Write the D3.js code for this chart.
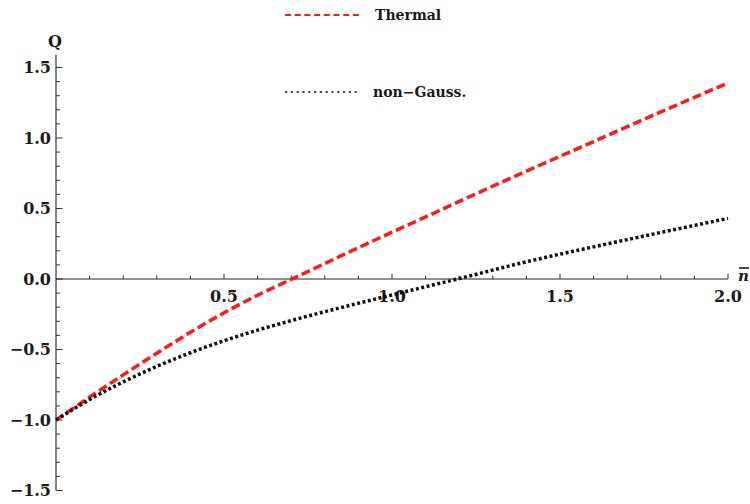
<!DOCTYPE html>
<html>
<head>
<meta charset="utf-8">
<script src="https://cdn.jsdelivr.net/npm/d3@7"></script>
<style>
  html, body { margin: 0; padding: 0; background: #fff; }
  svg { display: block; }
  text { font-family: "DejaVu Serif", "Liberation Serif", serif; font-weight: bold; fill: #1a1a1a; }
</style>
</head>
<body>
<svg id="chart" width="750" height="504"></svg>
<script>
// Mandel Q parameter versus mean photon number
const nValues = [0, 0.1, 0.2, 0.3, 0.4, 0.5, 0.6, 0.7, 0.8, 0.9, 1.0, 1.1, 1.2, 1.4, 1.6, 1.8, 2.0];
const thermalQ = [-1.00, -0.838, -0.680, -0.526, -0.378, -0.240, -0.115, -0.003, 0.110, 0.222, 0.332, 0.440, 0.550, 0.765, 0.975, 1.185, 1.390];
const nonGaussQ = [-1.00, -0.855, -0.730, -0.620, -0.523, -0.438, -0.363, -0.295, -0.232, -0.172, -0.113, -0.055, 0.003, 0.122, 0.228, 0.330, 0.430];

const xMajor = [0.5, 1.0, 1.5, 2.0];
const yMajor = [-1.5, -1.0, -0.5, 0.0, 0.5, 1.0, 1.5];
const seriesNames = ["Thermal", "non\u2212Gauss."];

const svg = d3.select("#chart");

const x = d3.scaleLinear().domain([0, 2]).range([56, 728]);
const y = d3.scaleLinear().domain([-1.5, 1.5]).range([490.5, 67.5]);

const fmt = v => (v < 0 ? "\u2212" : "") + Math.abs(v).toFixed(1);
const minor = (lo, hi) => d3.range(Math.round(lo * 10), Math.round(hi * 10) + 1).map(k => k / 10);
const isMajor = d => Math.abs(d * 2 - Math.round(d * 2)) < 1e-6;

// vertical axis
const yAxis = svg.append("g").attr("class", "y-axis");
yAxis.append("line")
  .attr("x1", x(0)).attr("x2", x(0))
  .attr("y1", y(1.59)).attr("y2", y(-1.5))
  .attr("stroke", "#333").attr("stroke-width", 1.2);
yAxis.selectAll("line.tick").data(minor(-1.5, 1.5)).join("line")
  .attr("class", "tick")
  .attr("x1", x(0))
  .attr("x2", d => x(0) + (isMajor(d) ? 6.5 : 4))
  .attr("y1", d => y(d)).attr("y2", d => y(d))
  .attr("stroke", "#333").attr("stroke-width", 1);
yAxis.selectAll("text").data(yMajor).join("text")
  .attr("x", 51).attr("y", d => y(d))
  .attr("dy", "0.36em")
  .attr("text-anchor", "end")
  .style("font-size", "16px")
  .text(fmt);

// horizontal axis
const xAxis = svg.append("g").attr("class", "x-axis");
xAxis.append("line")
  .attr("x1", x(0)).attr("x2", x(2))
  .attr("y1", y(0)).attr("y2", y(0))
  .attr("stroke", "#222").attr("stroke-width", 1.2);
xAxis.selectAll("line.tick").data(minor(0.1, 2.0)).join("line")
  .attr("class", "tick")
  .attr("x1", d => x(d)).attr("x2", d => x(d))
  .attr("y1", y(0))
  .attr("y2", d => y(0) - (isMajor(d) ? 5.5 : 3.5))
  .attr("stroke", "#333").attr("stroke-width", 1);
xAxis.selectAll("text").data(xMajor).join("text")
  .attr("x", d => x(d)).attr("y", 302)
  .attr("text-anchor", "middle")
  .style("font-size", "16px")
  .text(d => d.toFixed(1));

// axis titles
svg.append("text")
  .attr("x", 55).attr("y", 47)
  .attr("text-anchor", "middle")
  .style("font-size", "16px")
  .text("Q");
const nLabel = svg.append("g");
nLabel.append("text")
  .attr("x", 738).attr("y", 281)
  .style("font-size", "15px").style("font-style", "italic")
  .text("n");
nLabel.append("line")
  .attr("x1", 739).attr("x2", 749)
  .attr("y1", 268).attr("y2", 268)
  .attr("stroke", "#1a1a1a").attr("stroke-width", 1.6);

// curves
const line = d3.line()
  .x(d => x(d[0]))
  .y(d => y(d[1]))
  .curve(d3.curveMonotoneX);

const thermalPts = nValues.map((n, i) => [n, thermalQ[i]]);
const nonGaussPts = nValues.map((n, i) => [n, nonGaussQ[i]]);

svg.append("path")
  .datum(thermalPts)
  .attr("d", line)
  .attr("fill", "none")
  .attr("stroke", "#ff1a1a")
  .attr("stroke-width", 3.5)
  .attr("stroke-dasharray", "9,4");

svg.append("path")
  .datum(nonGaussPts)
  .attr("d", line)
  .attr("fill", "none")
  .attr("stroke", "#111")
  .attr("stroke-width", 3.5)
  .attr("stroke-dasharray", "3,2.5");

// legend
const legend = svg.append("g").attr("class", "legend");
legend.append("line")
  .attr("x1", 285).attr("x2", 362).attr("y1", 15).attr("y2", 15)
  .attr("stroke", "#ff1a1a").attr("stroke-width", 2)
  .attr("stroke-dasharray", "6,3.7");
legend.append("text")
  .attr("x", 375).attr("y", 15).attr("dy", "0.36em")
  .style("font-size", "14px")
  .text(seriesNames[0]);
legend.append("line")
  .attr("x1", 285).attr("x2", 360).attr("y1", 92).attr("y2", 92)
  .attr("stroke", "#111").attr("stroke-width", 1.6)
  .attr("stroke-dasharray", "2.2,3.6");
legend.append("text")
  .attr("x", 373).attr("y", 92).attr("dy", "0.36em")
  .style("font-size", "14px")
  .text(seriesNames[1]);
</script>
</body>
</html>
